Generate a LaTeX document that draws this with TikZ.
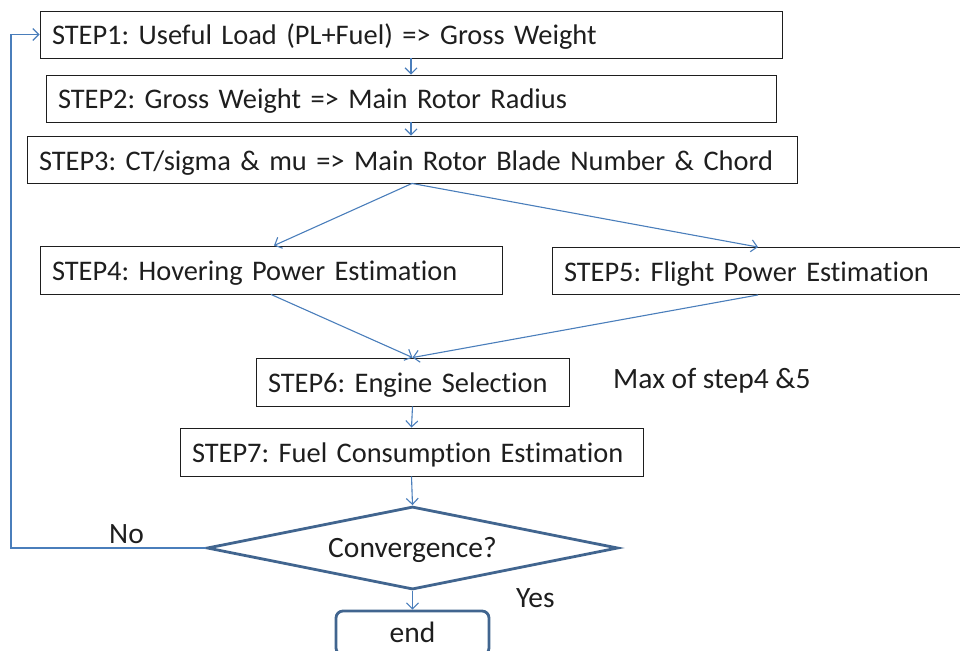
\documentclass[tikz,border=0pt]{standalone}
\usepackage{fontspec}
\setmainfont{Carlito}[Ligatures=NoCommon]
\usetikzlibrary{arrows.meta,shapes.geometric}
\definecolor{linkblue}{HTML}{4A7EBB}
\definecolor{deepblue}{HTML}{41658F}
\definecolor{inkgray}{HTML}{1E1E1E}
\frenchspacing
\newcommand{\oneline}[1]{\mbox{#1}}
\tikzset{
  stepbox/.style 2 args={draw=inkgray, line width=0.9pt, rectangle,
    minimum height=#2, inner xsep=12pt, inner ysep=0pt,
    text width=#1-24pt, align=left, text=inkgray,
    text height=24pt, text depth=3pt,
    font=\fontsize{28.4}{32}\selectfont},
  flow/.style={draw=linkblue, line width=1.1pt,
    -{Straight Barb[length=6pt,width=12pt,line width=1.1pt]}},
  lbl/.style={text=inkgray, font=\fontsize{29.5}{32}\selectfont, inner sep=0pt},
}
\begin{document}
\begin{tikzpicture}[x=1pt,y=-1pt]
\useasboundingbox (0,0) rectangle (960,650);

\node[stepbox={742pt}{47pt}] (s1) at (411,34.5) {\oneline{STEP1: Useful Load (PL+Fuel) => Gross Weight}};
\node[stepbox={730pt}{47pt}] (s2) at (411,98.5) {\oneline{STEP2: Gross Weight => Main Rotor Radius}};
\node[stepbox={770pt}{47pt}] (s3) at (412,159.5) {\oneline{STEP3: CT/sigma \& mu => Main Rotor Blade Number \& Chord}};
\node[stepbox={462pt}{48pt}] (s4) at (271,270) {\oneline{STEP4: Hovering Power Estimation}};
\node[stepbox={412pt}{47pt}] (s5) at (758,271) {\oneline{STEP5: Flight Power Estimation}};
\node[stepbox={313pt}{48pt}] (s6) at (412.5,382) {\oneline{STEP6: Engine Selection}};
\node[stepbox={463pt}{48pt}] (s7) at (411.5,452) {\oneline{STEP7: Fuel Consumption Estimation}};

\node[diamond, draw=deepblue, line width=2.8pt, minimum width=411pt,
  minimum height=83pt, inner sep=0pt, aspect=5, text=inkgray,
  text height=22pt, text depth=4pt,
  font=\fontsize{29.5}{32}\selectfont] (conv) at (412.5,548) {Convergence?};

\node[draw=deepblue, line width=2.8pt, rounded corners=7pt,
  minimum width=153pt, minimum height=44pt, inner sep=0pt, text=inkgray,
  text height=21pt, text depth=3pt,
  font=\fontsize{29.5}{32}\selectfont] (fin) at (412.5,633) {end};

\node[lbl, anchor=base west] (maxnote) at (613,388) {Max of step4 \&5};
\node[lbl, anchor=base west] (nolbl) at (109,543) {No};
\node[lbl, anchor=base west] (yeslbl) at (516,607) {Yes};

\coordinate (back) at (11,548);

\draw[flow] (s1.south) -- (s2.north);
\draw[flow] (s2.south) -- (s2.south |- s3.north);
\draw[flow] (s3.south) -- ([xshift=3pt]s4.north);
\draw[flow] (s3.south) -- (s5.north);
\draw[flow] (s4.south) -- (s6.north);
\draw[flow] (s5.south) -- (s6.north);
\draw[flow] (s6.south) -- (s7.north);
\draw[flow] (s7.south) -- (conv.north);
\draw[flow] (conv.south) -- (fin.north);
\draw[flow] (conv.west) -- (back) |- (s1.west);
\end{tikzpicture}
\end{document}
